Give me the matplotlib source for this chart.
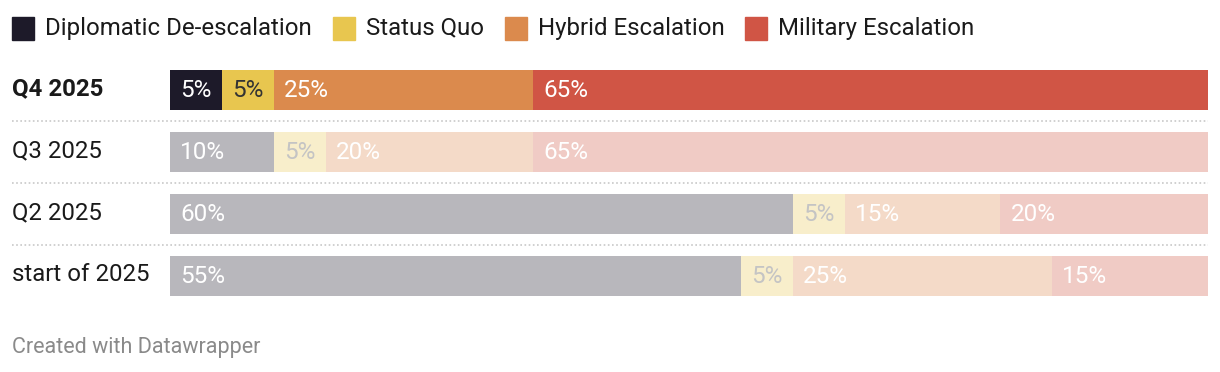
import matplotlib
matplotlib.use("Agg")
import matplotlib.pyplot as plt
from matplotlib.patches import Rectangle

plt.rcParams['font.family'] = ['Roboto', 'DejaVu Sans']

categories = ["Diplomatic De-escalation", "Status Quo", "Hybrid Escalation", "Military Escalation"]
periods = ["Q4 2025", "Q3 2025", "Q2 2025", "start of 2025"]
values = [
    [5, 5, 25, 65],
    [10, 5, 20, 65],
    [60, 5, 15, 20],
    [55, 5, 25, 15],
]

full_colors = ["#1d1a29", "#e8c64f", "#db8a4d", "#d05545"]
full_text = ["#ffffff", "#333333", "#ffffff", "#ffffff"]
faded_colors = ["#b8b7bc", "#f8eecb", "#f4dac8", "#f0cbc5"]
faded_text = ["#ffffff", "#c4c4c4", "#ffffff", "#ffffff"]

W, H = 1220, 372
fig = plt.figure(figsize=(W / 100, H / 100), dpi=100)

x0, x1 = 170, 1208
ytop, ybot = 58.5, 306.5
ax = fig.add_axes([x0 / W, 1 - ybot / H, (x1 - x0) / W, (ybot - ytop) / H])
ax.set_xlim(0, 100)
ax.set_ylim(3.5, -0.5)
ax.axis("off")

bar_h = 40 / 62
px_per_unit = (x1 - x0) / 100
for i, (p, row) in enumerate(zip(periods, values)):
    left = 0
    cols = full_colors if i == 0 else faded_colors
    tcols = full_text if i == 0 else faded_text
    for j, v in enumerate(row):
        ax.barh(i, v, left=left, height=bar_h, color=cols[j], edgecolor="none")
        ax.text(left + 10 / px_per_unit, i + 0.01, f"{v}%", ha="left", va="center",
                fontsize=17.5, color=tcols[j])
        left += v
    ax.text(-(x0 - 12) / px_per_unit, i - 0.01, p, ha="left", va="center", fontsize=17.3,
            color="#1a1a1a", fontweight="bold" if i == 0 else "normal")

for k in range(len(periods) - 1):
    ax.plot([-(x0 - 12) / px_per_unit, 100], [k + 0.5, k + 0.5], color="#c8c8c8",
            lw=1.2, ls=(0, (1, 1.5)), clip_on=False)

lx = 12
ly = 28
for j, c in enumerate(categories):
    fig.patches.append(Rectangle((lx / W, 1 - (ly + 11.5) / H), 22 / W, 23 / H,
                                 transform=fig.transFigure, color=full_colors[j]))
    t = fig.text((lx + 33) / W, 1 - ly / H, c, ha="left", va="center",
                 fontsize=17.3, color="#1a1a1a")
    fig.canvas.draw()
    bb = t.get_window_extent()
    lx = bb.x1 + 21

fig.text(12 / W, 1 - 348 / H, "Created with Datawrapper", ha="left", va="center",
         fontsize=15.5, color="#8a8a8a")

fig.savefig("out.png", dpi=100)
